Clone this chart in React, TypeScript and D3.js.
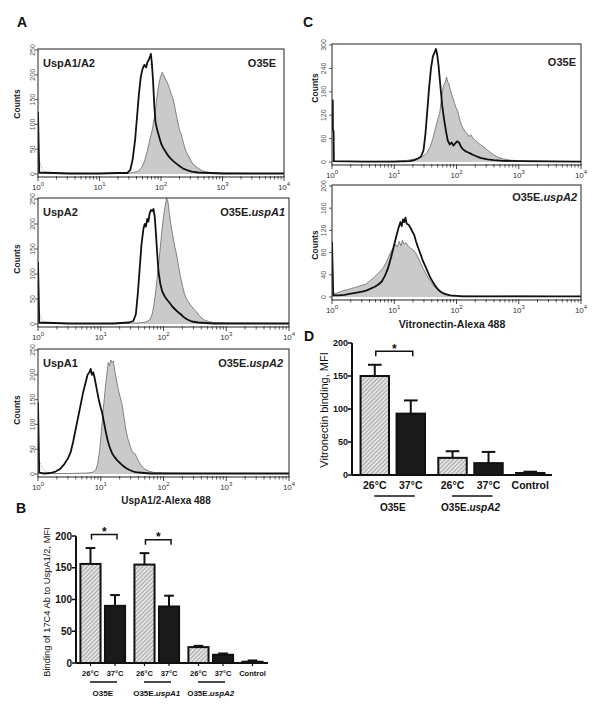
import React from "react";
import * as d3 from "d3";

type Pt = [number, number];

const FONT = "'Liberation Sans', Arial, Helvetica, sans-serif";

// ---------- axis tick values ----------
const DECADES = [0, 1, 2, 3, 4];
const A_COUNT_TICKS = [0, 50, 100, 150, 200, 250];
const C1_COUNT_TICKS = [0, 60, 120, 180, 240, 300];
const C2_COUNT_TICKS = [0, 40, 80, 120, 160, 200];
const BAR_TICKS = [0, 50, 100, 150, 200];

// ---------- histogram traces: [log10 fluorescence, counts] ----------
const A1_BLACK: Pt[] = [[0,125],[0.02,3],[0.5,1],[1.0,1],[1.3,2],[1.45,2],[1.5,8],[1.54,30],[1.58,70],[1.61,115],[1.64,160],[1.67,195],[1.7,212],[1.73,220],[1.76,215],[1.78,226],[1.8,230],[1.82,236],[1.835,242],[1.85,225],[1.87,190],[1.89,140],[1.91,105],[1.94,88],[1.97,75],[2.0,62],[2.03,54],[2.07,46],[2.11,38],[2.15,32],[2.2,26],[2.25,21],[2.3,16],[2.36,11],[2.42,8],[2.5,5],[2.6,3],[2.8,2],[3.0,1],[4,1]];
const A1_GRAY: Pt[] = [[0,2],[1.0,1],[1.5,2],[1.62,5],[1.68,12],[1.73,25],[1.78,48],[1.82,70],[1.86,90],[1.9,120],[1.93,150],[1.96,178],[1.99,195],[2.02,205],[2.05,198],[2.08,190],[2.11,182],[2.14,172],[2.17,160],[2.2,150],[2.23,132],[2.26,112],[2.29,95],[2.31,85],[2.33,80],[2.35,70],[2.38,56],[2.41,45],[2.44,38],[2.48,28],[2.52,20],[2.56,16],[2.6,12],[2.65,8],[2.7,5],[2.8,3],[3.0,2],[3.5,1],[4,1]];
const A1_DOTTED: Pt[] = [[0,40],[0.03,25],[0.06,12],[0.1,5],[0.15,2],[0.25,0]];

const A2_BLACK: Pt[] = [[0,124],[0.02,3],[0.5,1],[1.2,1],[1.45,3],[1.52,6],[1.56,20],[1.59,60],[1.62,110],[1.65,160],[1.68,190],[1.7,200],[1.72,195],[1.74,210],[1.76,205],[1.78,222],[1.8,228],[1.82,226],[1.84,230],[1.86,215],[1.88,180],[1.9,140],[1.92,105],[1.95,80],[1.98,65],[2.02,55],[2.06,48],[2.1,42],[2.14,35],[2.18,30],[2.22,25],[2.27,20],[2.32,14],[2.38,9],[2.45,5],[2.55,3],[2.8,1],[4,1]];
const A2_GRAY: Pt[] = [[0,3],[0.03,1],[1.0,1],[1.6,2],[1.72,4],[1.78,8],[1.82,20],[1.85,40],[1.88,70],[1.91,105],[1.94,142],[1.97,180],[2.0,215],[2.03,238],[2.05,252],[2.07,245],[2.09,225],[2.11,205],[2.13,190],[2.15,175],[2.18,155],[2.21,138],[2.24,115],[2.27,95],[2.3,78],[2.33,62],[2.36,52],[2.39,45],[2.42,40],[2.45,35],[2.48,30],[2.52,25],[2.56,18],[2.6,13],[2.65,8],[2.72,5],[2.8,3],[3.0,2],[4,1]];
const A2_DOTTED: Pt[] = [[0,28],[0.03,18],[0.07,8],[0.12,3],[0.2,0]];

const A3_BLACK: Pt[] = [[0,144],[0.02,3],[0.1,1],[0.2,2],[0.28,5],[0.35,10],[0.42,20],[0.48,32],[0.52,44],[0.56,65],[0.6,90],[0.64,115],[0.68,140],[0.72,165],[0.76,185],[0.79,200],[0.82,205],[0.84,212],[0.86,200],[0.88,205],[0.9,195],[0.93,175],[0.96,155],[0.99,138],[1.02,125],[1.05,105],[1.08,85],[1.11,68],[1.14,55],[1.18,42],[1.22,34],[1.26,28],[1.3,23],[1.35,17],[1.4,12],[1.46,8],[1.52,5],[1.6,3],[1.8,1],[4,1]];
const A3_GRAY: Pt[] = [[0,3],[0.05,1],[0.5,1],[0.8,2],[0.88,4],[0.92,8],[0.95,20],[0.98,45],[1.01,85],[1.04,130],[1.07,170],[1.1,205],[1.12,225],[1.14,218],[1.16,230],[1.18,225],[1.2,228],[1.22,210],[1.25,190],[1.28,170],[1.31,155],[1.34,140],[1.37,115],[1.4,90],[1.43,72],[1.46,60],[1.49,48],[1.52,42],[1.55,40],[1.58,32],[1.62,22],[1.66,15],[1.7,10],[1.76,6],[1.85,3],[2.0,2],[2.5,1],[4,1]];
const A3_DOTTED: Pt[] = [[0,30],[0.04,20],[0.08,10],[0.14,4],[0.22,1],[0.3,0]];

const C1_BLACK: Pt[] = [[0,158],[0.012,158],[0.015,80],[0.025,80],[0.03,2],[0.5,1],[1.0,1],[1.25,2],[1.32,5],[1.38,9],[1.43,14],[1.47,30],[1.5,70],[1.53,130],[1.56,190],[1.59,240],[1.62,270],[1.65,282],[1.67,290],[1.69,275],[1.71,250],[1.73,215],[1.75,180],[1.77,145],[1.8,110],[1.83,80],[1.86,55],[1.89,45],[1.92,50],[1.95,42],[1.98,48],[2.01,53],[2.04,50],[2.07,40],[2.1,33],[2.14,28],[2.18,25],[2.22,22],[2.27,18],[2.33,14],[2.4,10],[2.5,7],[2.6,5],[2.75,3],[3.0,2],[4,1]];
const C1_GRAY: Pt[] = [[0,3],[0.05,1],[1.0,2],[1.2,4],[1.35,8],[1.45,14],[1.52,22],[1.58,40],[1.62,60],[1.66,85],[1.7,110],[1.73,125],[1.76,165],[1.79,195],[1.82,205],[1.84,218],[1.86,205],[1.88,200],[1.9,185],[1.93,170],[1.96,155],[1.99,140],[2.02,130],[2.05,110],[2.08,95],[2.11,85],[2.14,78],[2.17,73],[2.2,65],[2.23,70],[2.26,62],[2.3,55],[2.34,50],[2.38,45],[2.42,40],[2.46,36],[2.5,30],[2.55,24],[2.6,18],[2.67,12],[2.75,8],[2.85,5],[3.0,3],[3.3,2],[4,1]];

const C2_BLACK: Pt[] = [[0,100],[0.02,3],[0.1,3],[0.2,4],[0.3,6],[0.4,8],[0.5,10],[0.56,12],[0.62,15],[0.68,18],[0.74,22],[0.8,28],[0.85,38],[0.9,52],[0.95,72],[0.99,90],[1.03,108],[1.07,125],[1.1,135],[1.12,128],[1.14,140],[1.16,135],[1.18,143],[1.2,132],[1.23,130],[1.26,125],[1.29,118],[1.32,112],[1.35,100],[1.38,90],[1.42,78],[1.46,65],[1.5,55],[1.54,45],[1.58,35],[1.62,27],[1.66,20],[1.7,14],[1.75,9],[1.82,5],[1.9,3],[2.1,1],[4,1]];
const C2_GRAY: Pt[] = [[0,8],[0.05,6],[0.1,8],[0.15,10],[0.2,12],[0.25,13],[0.3,15],[0.36,17],[0.42,19],[0.48,21],[0.54,23],[0.6,28],[0.66,34],[0.72,40],[0.78,47],[0.82,52],[0.86,60],[0.9,70],[0.94,80],[0.98,88],[1.02,95],[1.05,90],[1.08,100],[1.11,92],[1.13,102],[1.16,95],[1.19,98],[1.22,92],[1.26,88],[1.3,85],[1.34,80],[1.38,72],[1.42,62],[1.46,52],[1.5,44],[1.54,36],[1.58,28],[1.62,22],[1.66,17],[1.7,13],[1.76,9],[1.82,6],[1.9,3],[2.0,2],[2.5,1],[3.0,2],[3.5,1],[4,1]];

// ---------- bar charts ----------
const TEMPS = ["26°C", "37°C"];
const B_GROUPS = ["O35E", "O35E.uspA1", "O35E.uspA2", "Control"];
const B_BAR_GROUP = ["O35E", "O35E", "O35E.uspA1", "O35E.uspA1", "O35E.uspA2", "O35E.uspA2", "Control"];
const B_BAR_COND = ["26°C", "37°C", "26°C", "37°C", "26°C", "37°C", "Control"];
const B_MEANS = [156, 90, 155, 89, 25, 13, 2];
const B_SEMS = [25, 17, 18, 17, 2, 2, 2];
const B_SIGNIFICANT = ["O35E", "O35E.uspA1"];

const D_GROUPS = ["O35E", "O35E.uspA2", "Control"];
const D_BAR_GROUP = ["O35E", "O35E", "O35E.uspA2", "O35E.uspA2", "Control"];
const D_BAR_COND = ["26°C", "37°C", "26°C", "37°C", "Control"];
const D_MEANS = [150, 93, 26, 18, 3];
const D_SEMS = [17, 20, 10, 17, 2];
const D_SIGNIFICANT = ["O35E"];

interface HistProps {
  id: string;
  x0: number; x1: number; top: number; bottom: number;
  yZero: number; yTopPx: number; yMax: number;
  ticks: number[];
  gray: Pt[]; black: Pt[]; dotted?: Pt[];
  leftLabel?: string;
  rightLabel: [string, string];
  labelY: number; rightX: number;
  tickLabelX: number; countsX: number; countsY: number;
}

function GroupName({ name }: { name: string }) {
  const i = name.indexOf(".");
  if (i < 0) return <tspan>{name}</tspan>;
  return (
    <>
      <tspan>{name.slice(0, i + 1)}</tspan>
      <tspan fontStyle="italic">{name.slice(i + 1)}</tspan>
    </>
  );
}

function Histogram(p: HistProps) {
  const xs = d3.scaleLog().domain([1, 1e4]).range([p.x0, p.x1]);
  const ys = d3.scaleLinear().domain([0, p.yMax]).range([p.yZero, p.yTopPx]);
  const px = (d: Pt) => xs(Math.pow(10, d[0]));
  const line = d3.line<Pt>().x(px).y((d) => ys(d[1]));
  const area = d3.area<Pt>().x(px).y0(ys(0)).y1((d) => ys(d[1]));
  const minor: number[] = [];
  DECADES.slice(0, -1).forEach((d) => {
    for (let k = 2; k <= 9; k++) minor.push(k * Math.pow(10, d));
  });
  return (
    <g>
      <defs>
        <clipPath id={p.id}>
          <rect x={p.x0} y={p.top} width={p.x1 - p.x0} height={p.bottom - p.top} />
        </clipPath>
      </defs>
      <g clipPath={`url(#${p.id})`}>
        <path d={area(p.gray) || ""} fill="#cacaca" />
        <path d={line(p.gray) || ""} fill="none" stroke="#6a6a6a" strokeWidth={0.8} />
        {p.dotted && (
          <path d={line(p.dotted) || ""} fill="none" stroke="#8a8a8a" strokeWidth={0.8} strokeDasharray="1,1.2" />
        )}
        <path d={line(p.black) || ""} fill="none" stroke="#111" strokeWidth={1.8} strokeLinejoin="round" />
      </g>
      <rect x={p.x0} y={p.top} width={p.x1 - p.x0} height={p.bottom - p.top} fill="none" stroke="#222" strokeWidth={1} />
      {minor.map((v) => (
        <line key={"m" + v} x1={xs(v)} x2={xs(v)} y1={p.bottom - 1} y2={p.bottom + 2.5} stroke="#333" strokeWidth={0.8} />
      ))}
      {DECADES.map((d) => (
        <g key={"d" + d}>
          <line x1={xs(Math.pow(10, d))} x2={xs(Math.pow(10, d))} y1={p.bottom - 1} y2={p.bottom + 4} stroke="#333" strokeWidth={0.9} />
          <text x={xs(Math.pow(10, d))} y={p.bottom + 13} textAnchor="middle" fontFamily={FONT} fontSize={8} fill="#333">
            <tspan>10</tspan>
            <tspan dy={-4} fontSize={6}>{d}</tspan>
          </text>
        </g>
      ))}
      {p.ticks.map((t) => (
        <g key={"y" + t}>
          <line x1={p.x0 - 3} x2={p.x0} y1={ys(t)} y2={ys(t)} stroke="#333" strokeWidth={0.8} />
          <text transform={`translate(${p.tickLabelX},${ys(t)}) rotate(-90)`} textAnchor="middle" fontFamily={FONT} fontSize={7} fill="#555">
            {t}
          </text>
        </g>
      ))}
      <text transform={`translate(${p.countsX},${p.countsY}) rotate(-90)`} textAnchor="middle" fontFamily={FONT} fontSize={8.5} fontWeight="bold" fill="#222">
        Counts
      </text>
      {p.leftLabel && (
        <text x={p.x0 + 5} y={p.labelY} fontFamily={FONT} fontSize={11} fontWeight="bold" fill="#222">
          {p.leftLabel}
        </text>
      )}
      <text x={p.rightX} y={p.labelY} textAnchor="end" fontFamily={FONT} fontSize={11} fontWeight="bold" fill="#222">
        <tspan>{p.rightLabel[0]}</tspan>
        {p.rightLabel[1] && <tspan fontStyle="italic">{p.rightLabel[1]}</tspan>}
      </text>
    </g>
  );
}

interface BarProps {
  groups: string[]; barGroup: string[]; barCond: string[];
  means: number[]; sems: number[]; significant: string[];
  axisX: number; axisEndX: number; yZero: number; yTop: number;
  gx0: number; groupStep: number; pi: number; po: number;
  tickFont: number; condFont: number; groupFont: number;
  condY: number; underlineY: number; groupY: number; underlineExtra: number;
  yLabel: string; yLabelX: number; yLabelY: number; yLabelFont: number;
  catTicks: boolean;
}

function BarPanel(p: BarProps) {
  const ys = d3.scaleLinear().domain([0, 200]).range([p.yZero, p.yTop]);
  const outer = d3.scaleBand<string>().domain(p.groups).range([p.gx0, p.gx0 + p.groupStep * p.groups.length]);
  const inner = d3.scaleBand<string>().domain(TEMPS).range([0, outer.bandwidth()]).paddingInner(p.pi).paddingOuter(p.po);
  const bw = inner.bandwidth();
  const left = (i: number) => (outer(p.barGroup[i]) as number) + (inner(p.barCond[i] === "Control" ? TEMPS[0] : p.barCond[i]) as number);
  const center = (i: number) => left(i) + bw / 2;
  const idx = p.means.map((_, i) => i);
  return (
    <g fontFamily={FONT}>
      {idx.map((i) => {
        const hatched = p.barCond[i] === TEMPS[0];
        return (
          <g key={"bar" + i}>
            <line x1={center(i)} x2={center(i)} y1={ys(p.means[i])} y2={ys(p.means[i] + p.sems[i])} stroke="#111" strokeWidth={2} />
            <line x1={center(i) - bw * 0.24} x2={center(i) + bw * 0.24} y1={ys(p.means[i] + p.sems[i])} y2={ys(p.means[i] + p.sems[i])} stroke="#111" strokeWidth={2} />
            <rect x={left(i)} y={ys(p.means[i])} width={bw} height={ys(0) - ys(p.means[i])}
              fill={hatched ? "url(#hatch)" : "#1a1a1a"} stroke="#111" strokeWidth={2} />
          </g>
        );
      })}
      <line x1={p.axisX} x2={p.axisX} y1={ys(200)} y2={ys(0)} stroke="#111" strokeWidth={2} />
      <line x1={p.axisX} x2={p.axisEndX} y1={ys(0)} y2={ys(0)} stroke="#111" strokeWidth={2} />
      {p.catTicks && idx.map((i) => (
        <line key={"ct" + i} x1={center(i)} x2={center(i)} y1={ys(0)} y2={ys(0) + 3} stroke="#111" strokeWidth={1.2} />
      ))}
      {BAR_TICKS.map((t) => (
        <g key={"bt" + t}>
          <line x1={p.axisX - 4} x2={p.axisX} y1={ys(t)} y2={ys(t)} stroke="#111" strokeWidth={1.5} />
          <text x={p.axisX - 4} y={ys(t) + p.tickFont * 0.36} textAnchor="end" fontSize={p.tickFont} fontWeight="bold" fill="#111">
            {t}
          </text>
        </g>
      ))}
      {idx.map((i) => (
        <text key={"cl" + i} x={center(i)} y={p.condY} textAnchor="middle" fontSize={p.condFont} fontWeight="bold" fill="#111">
          {p.barCond[i]}
        </text>
      ))}
      {p.groups.filter((g) => g !== "Control").map((g) => {
        const members = idx.filter((i) => p.barGroup[i] === g);
        const c0 = center(members[0]);
        const c1 = center(members[members.length - 1]);
        return (
          <g key={"g" + g}>
            <line x1={c0 - 0.5} x2={c1 + p.underlineExtra} y1={p.underlineY} y2={p.underlineY} stroke="#111" strokeWidth={1.5} />
            <text x={(c0 + c1) / 2} y={p.groupY} textAnchor="middle" fontSize={p.groupFont} fontWeight="bold" fill="#111">
              <GroupName name={g} />
            </text>
          </g>
        );
      })}
      {p.significant.map((g) => {
        const members = idx.filter((i) => p.barGroup[i] === g);
        const c0 = center(members[0]);
        const c1 = center(members[members.length - 1]);
        const topVal = d3.max(members, (i) => p.means[i] + p.sems[i]) as number;
        const yb = ys(topVal) - 13.5;
        return (
          <g key={"s" + g}>
            <path d={`M${c0 + 1},${yb + 5}V${yb}H${c1 + 2}V${yb + 5}`} fill="none" stroke="#111" strokeWidth={1.5} />
            <text x={(c0 + c1) / 2 + 1.5} y={yb + 1.5} textAnchor="middle" fontSize={12} fontWeight="bold" fill="#111">*</text>
          </g>
        );
      })}
      <text transform={`translate(${p.yLabelX},${p.yLabelY}) rotate(-90)`} textAnchor="middle" fontSize={p.yLabelFont} fill="#111">
        {p.yLabel}
      </text>
    </g>
  );
}

export default function App() {
  return (
    <svg width={600} height={720} viewBox="0 0 600 720"
      style={{ position: "absolute", left: 0, top: 0, background: "#fff" }}>
      <defs>
        <pattern id="hatch" patternUnits="userSpaceOnUse" width={3} height={3} patternTransform="rotate(45)">
          <rect width={3} height={3} fill="#e2e2e2" />
          <line x1={0} y1={0} x2={0} y2={3} stroke="#767676" strokeWidth={1.1} />
        </pattern>
      </defs>
      <rect width={600} height={720} fill="#fff" />

      <g fontFamily={FONT} fontWeight="bold" fontSize={14} fill="#111">
        <text x={17} y={27}>A</text>
        <text x={303} y={27}>C</text>
        <text x={16} y={513}>B</text>
        <text x={304} y={341}>D</text>
      </g>

      <Histogram id="a1" x0={38} x1={284} top={49} bottom={177} yZero={174} yTopPx={50} yMax={250}
        ticks={A_COUNT_TICKS} gray={A1_GRAY} black={A1_BLACK} dotted={A1_DOTTED}
        leftLabel="UspA1/A2" rightLabel={["O35E", ""]} labelY={67} rightX={276}
        tickLabelX={35} countsX={20} countsY={104} />
      <Histogram id="a2" x0={38} x1={289} top={198} bottom={327} yZero={324} yTopPx={199} yMax={250}
        ticks={A_COUNT_TICKS} gray={A2_GRAY} black={A2_BLACK} dotted={A2_DOTTED}
        leftLabel="UspA2" rightLabel={["O35E.", "uspA1"]} labelY={216} rightX={285}
        tickLabelX={35} countsX={20} countsY={259} />
      <Histogram id="a3" x0={38} x1={289} top={349} bottom={477} yZero={474} yTopPx={350} yMax={250}
        ticks={A_COUNT_TICKS} gray={A3_GRAY} black={A3_BLACK} dotted={A3_DOTTED}
        leftLabel="UspA1" rightLabel={["O35E.", "uspA2"]} labelY={367} rightX={283}
        tickLabelX={35} countsX={20} countsY={410} />
      <text x={166} y={504} textAnchor="middle" fontFamily={FONT} fontSize={10} fontWeight="bold" fill="#222">
        UspA1/2-Alexa 488
      </text>

      <Histogram id="c1" x0={332} x1={581} top={44} bottom={165} yZero={162} yTopPx={45} yMax={300}
        ticks={C1_COUNT_TICKS} gray={C1_GRAY} black={C1_BLACK}
        rightLabel={["O35E", ""]} labelY={66} rightX={576}
        tickLabelX={326} countsX={318} countsY={88} />
      <Histogram id="c2" x0={332} x1={581} top={185} bottom={300} yZero={297} yTopPx={186} yMax={200}
        ticks={C2_COUNT_TICKS} gray={C2_GRAY} black={C2_BLACK}
        rightLabel={["O35E.", "uspA2"]} labelY={201} rightX={577}
        tickLabelX={326} countsX={318} countsY={245} />
      <text x={452} y={328} textAnchor="middle" fontFamily={FONT} fontSize={10.5} fontWeight="bold" fill="#222">
        Vitronectin-Alexa 488
      </text>

      <BarPanel groups={B_GROUPS} barGroup={B_BAR_GROUP} barCond={B_BAR_COND} means={B_MEANS} sems={B_SEMS}
        significant={B_SIGNIFICANT} axisX={76} axisEndX={268} yZero={663} yTop={536}
        gx0={75.75} groupStep={54} pi={0.18} po={0.19}
        tickFont={10} condFont={7.5} groupFont={8} condY={676} underlineY={682} groupY={696} underlineExtra={2}
        yLabel="Binding of 17C4 Ab to UspA1/2, MFI" yLabelX={50} yLabelY={602} yLabelFont={9.3} catTicks={true} />

      <BarPanel groups={D_GROUPS} barGroup={D_BAR_GROUP} barCond={D_BAR_COND} means={D_MEANS} sems={D_SEMS}
        significant={D_SIGNIFICANT} axisX={352} axisEndX={552} yZero={475} yTop={343}
        gx0={353.9} groupStep={77.75} pi={0.21} po={0.185}
        tickFont={9} condFont={10.5} groupFont={10} condY={489} underlineY={496} groupY={511} underlineExtra={4}
        yLabel="Vitronectin binding, MFI" yLabelX={328} yLabelY={410} yLabelFont={11} catTicks={false} />
    </svg>
  );
}
